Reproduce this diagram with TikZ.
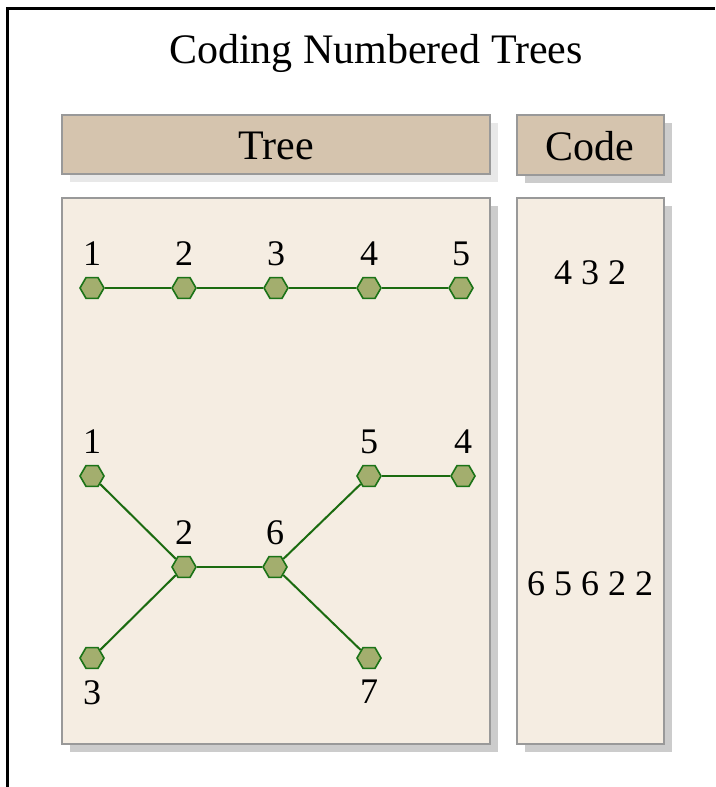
\documentclass[tikz,border=0pt]{standalone}
\usepackage{fontspec}
\setmainfont{Liberation Serif}
\usetikzlibrary{shapes.geometric, shadows}

\definecolor{headfill}{HTML}{D5C4AE}
\definecolor{bodyfill}{HTML}{F5EDE2}
\definecolor{boxline}{HTML}{999999}
\definecolor{nodefill}{HTML}{A3AE6E}
\definecolor{nodeline}{HTML}{1B7317}
\definecolor{edgeline}{HTML}{1B6B10}

\begin{document}
\begin{tikzpicture}[
    x=1pt, y=1pt,
    title/.style={font=\fontsize{42}{48}\selectfont},
    header/.style={draw=boxline, line width=1.8pt, fill=headfill, drop shadow={shadow xshift=8pt, shadow yshift=-8pt, fill=black!20, opacity=1}},
    panel/.style={draw=boxline, line width=1.8pt, fill=bodyfill, drop shadow={shadow xshift=8pt, shadow yshift=-8pt, fill=black!20, opacity=1}},
    headtext/.style={font=\fontsize{42}{48}\selectfont},
    codetext/.style={font=\fontsize{36}{42}\selectfont},
    every label/.style={font=\fontsize{36}{42}\selectfont, inner sep=0pt},
    vertex/.style={regular polygon, regular polygon sides=6, minimum size=24pt, inner sep=0pt, draw=nodeline, line width=1.6pt, fill=nodefill},
    numabove/.style={label={[yshift=11pt]above:#1}},
    numbelow/.style={label={[yshift=-11pt]below:#1}},
    edge/.style={draw=edgeline, line width=2pt}
]
\useasboundingbox (0,-787) rectangle (715,0);

% Frame
\draw[line width=2.2pt] (7.5,-787) -- (7.5,-8.5) -- (715,-8.5);

% Title
\node[title] (title) at (376,-53) {Coding Numbered Trees};

% Headers
\path[header, drop shadow={shadow xshift=8pt, shadow yshift=-8pt, fill=black!9, opacity=1}] (62,-115) rectangle (490,-174);
\node[headtext] (treehead) at (276,-146) {Tree};
\path[header] (517,-115) rectangle (664,-175);
\node[headtext] (codehead) at (590,-146) {Code};

% Panels
\path[panel] (62,-198) rectangle (490,-744);
\path[panel] (517,-198) rectangle (664,-744);

% Tree 1: a path
\node[vertex, numabove=1] (a1) at (92,-288) {};
\node[vertex, numabove=2] (a2) at (184,-288) {};
\node[vertex, numabove=3] (a3) at (276,-288) {};
\node[vertex, numabove=4] (a4) at (369,-288) {};
\node[vertex, numabove=5] (a5) at (461,-288) {};

\draw[edge] (a1) -- (a2);
\draw[edge] (a2) -- (a3);
\draw[edge] (a3) -- (a4);
\draw[edge] (a4) -- (a5);

\node[codetext] (codea) at (590,-273) {4 3 2};

% Tree 2
\node[vertex, numabove=1] (b1) at (92,-476) {};
\node[vertex, numabove=5] (b5) at (369,-476) {};
\node[vertex, numabove=4] (b4) at (463,-476) {};
\node[vertex, numabove=2] (b2) at (184,-567) {};
\node[vertex, numabove=6] (b6) at (275,-567) {};
\node[vertex, numbelow=3] (b3) at (92,-658) {};
\node[vertex, numbelow=7] (b7) at (369,-658) {};

\draw[edge] (b1) -- (b2);
\draw[edge] (b3) -- (b2);
\draw[edge] (b2) -- (b6);
\draw[edge] (b6) -- (b5);
\draw[edge] (b5) -- (b4);
\draw[edge] (b6) -- (b7);

\node[codetext] (codeb) at (590,-584) {6 5 6 2 2};

\end{tikzpicture}
\end{document}
